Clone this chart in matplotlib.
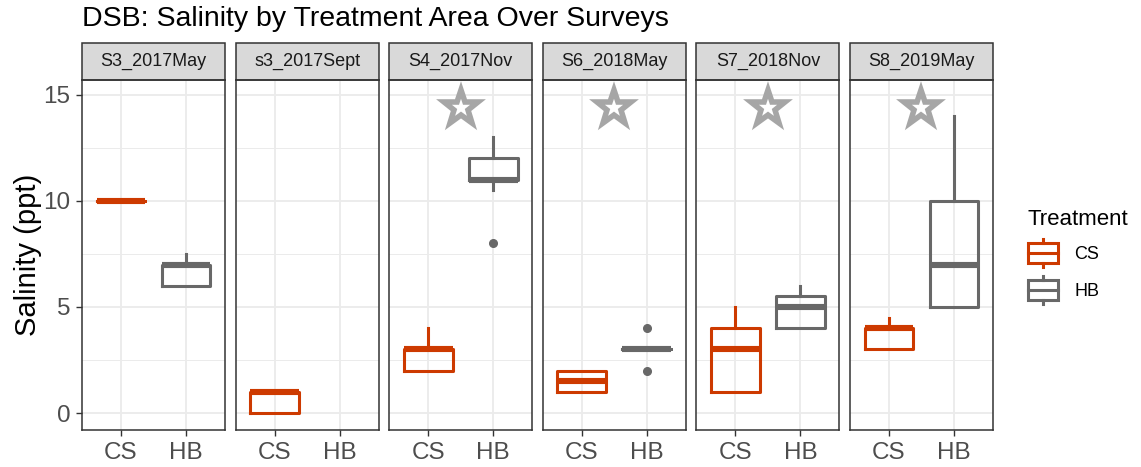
import numpy as np
import matplotlib
matplotlib.use("Agg")
import matplotlib.pyplot as plt
from matplotlib.patches import Rectangle, Patch
from matplotlib.lines import Line2D
from matplotlib.markers import MarkerStyle
from matplotlib.legend_handler import HandlerBase

plt.rcParams['font.family'] = ['Liberation Sans', 'DejaVu Sans']

# survey facets
surveys = ["S3_2017May", "s3_2017Sept", "S4_2017Nov", "S6_2018May", "S7_2018Nov", "S8_2019May"]
treatments = ["CS", "HB"]

# CS box stats per survey
cs_lo = [10, 0, 2, 1, 1, 3]
cs_q1 = [10, 0, 2, 1, 1, 3]
cs_med = [10, 1, 3, 1.5, 3, 4]
cs_q3 = [10, 1, 3, 2, 4, 4]
cs_hi = [10, 1, 4, 2, 5, 4.5]
cs_out = [[], [], [], [], [], []]

# HB box stats per survey (None = no data that survey)
hb_lo = [6, None, 10.5, 3, 4, 5]
hb_q1 = [6, None, 11, 3, 4, 5]
hb_med = [7, None, 11, 3, 5, 7]
hb_q3 = [7, None, 12, 3, 5.5, 10]
hb_hi = [7.5, None, 13, 3, 6, 14]
hb_out = [[], [], [8], [2, 4], [], []]

# significance star shown above panel
star_shown = [False, False, True, True, True, True]
star_y = 14.4

cs_col = "#CD3A00"
hb_col = "#686868"
star_col = "#A6A6A6"
grid_col = "#EBEBEB"
frame_col = "#333333"

W, H = 1141, 467
fig, axes = plt.subplots(1, 6, figsize=(W/100, H/100), dpi=100, sharey=True)
fig.subplots_adjust(left=82/W, right=993/W, bottom=1-430/H, top=1-80/H, wspace=0.074)


def stats(lo, q1, med, q3, hi, out):
    return dict(whislo=lo, q1=q1, med=med, q3=q3, whishi=hi, fliers=out)


star_marker = MarkerStyle('*', joinstyle='miter')

for i, ax in enumerate(axes):
    ax.set_xlim(0.4, 2.6)
    ax.set_ylim(-0.8, 15.7)
    ax.set_yticks([0, 5, 10, 15])
    ax.set_yticks([2.5, 7.5, 12.5], minor=True)
    ax.set_xticks([1, 2])
    ax.set_xticklabels(treatments)
    ax.grid(which='major', color=grid_col, lw=1.3)
    ax.grid(which='minor', axis='y', color=grid_col, lw=0.7)
    ax.set_axisbelow(True)
    for s in ax.spines.values():
        s.set_color(frame_col)
        s.set_linewidth(1.1)
    ax.tick_params(which='major', length=4.3, width=1.0, color=frame_col,
                   labelsize=17.5, labelcolor="#4D4D4D", pad=4)
    ax.tick_params(which='minor', length=0)
    if i > 0:
        ax.tick_params(axis='y', left=False)

    boxes = [(0, cs_col, cs_lo, cs_q1, cs_med, cs_q3, cs_hi, cs_out),
             (1, hb_col, hb_lo, hb_q1, hb_med, hb_q3, hb_hi, hb_out)]
    for j, col, lo, q1, med, q3, hi, out in boxes:
        if med[i] is None:
            continue
        ax.bxp([stats(lo[i], q1[i], med[i], q3[i], hi[i], out[i])], positions=[j+1],
               widths=0.75, showcaps=False, manage_ticks=False,
               boxprops=dict(color=col, lw=2.2),
               whiskerprops=dict(color=col, lw=2.2),
               medianprops=dict(color=col, lw=4.4, solid_capstyle='butt'),
               flierprops=dict(marker='o', mfc=col, mec=col, ms=5.5))

    if star_shown[i]:
        ax.plot([1.5], [star_y], marker=star_marker, ms=26, mfc='white', mec=star_col, mew=4.0)

    # facet strip
    sh = 37/350
    ax.add_patch(Rectangle((0, 1), 1, sh, transform=ax.transAxes, clip_on=False,
                           fc="#D9D9D9", ec=frame_col, lw=1.1))
    ax.text(0.5, 1+sh/2, surveys[i], transform=ax.transAxes, ha='center', va='center',
            fontsize=13, color="#1A1A1A")

axes[0].set_ylabel("Salinity (ppt)", fontsize=21, labelpad=1)

fig.text(82/W, 1-19/H, "DSB: Salinity by Treatment Area Over Surveys", fontsize=20.5,
         ha='left', va='center')


class BoxKey(HandlerBase):
    def create_artists(self, legend, orig_handle, xd, yd, w, h, fontsize, trans):
        c = orig_handle.get_edgecolor()
        x0, y0 = -xd, -yd
        box = Rectangle((x0, y0+0.15*h), w, 0.7*h, fc='white', ec=c, lw=2.2, transform=trans)
        med = Line2D([x0, x0+w], [y0+0.5*h]*2, color=c, lw=2.2, transform=trans)
        wlo = Line2D([x0+w/2]*2, [y0, y0+0.15*h], color=c, lw=2.2, transform=trans)
        whi = Line2D([x0+w/2]*2, [y0+0.85*h, y0+h], color=c, lw=2.2, transform=trans)
        return [box, med, wlo, whi]


handles = [Patch(edgecolor=cs_col, facecolor='white', label='CS'),
           Patch(edgecolor=hb_col, facecolor='white', label='HB')]
fig.legend(handles=handles, handler_map={Patch: BoxKey()}, title='Treatment',
           loc='upper left', bbox_to_anchor=(1028/W, 1-209/H), frameon=False,
           fontsize=13, title_fontsize=16, handlelength=1.65, handleheight=2.0,
           labelspacing=0.5, handletextpad=0.9, alignment='left',
           borderpad=0, borderaxespad=0)

fig.savefig("out.png", dpi=100)
